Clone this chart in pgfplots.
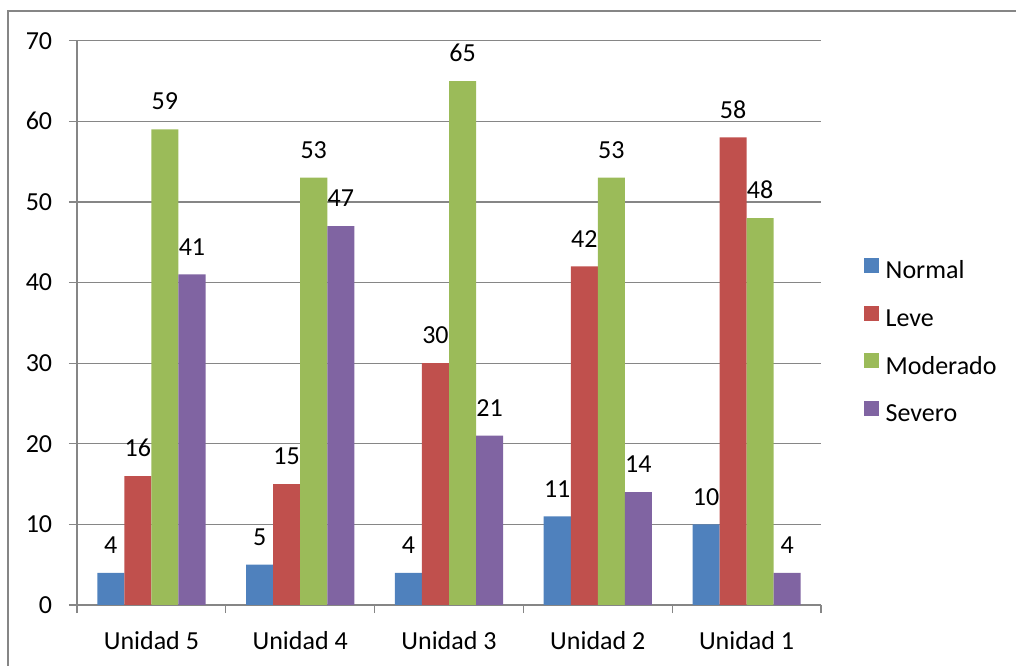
\documentclass[border=0pt]{standalone}
\usepackage{pgfplots}
\pgfplotsset{compat=1.18}
\usepackage{fontspec}
\setmainfont{Carlito}
\definecolor{cNormal}{HTML}{4F81BD}
\definecolor{cLeve}{HTML}{C0504D}
\definecolor{cMod}{HTML}{9BBB59}
\definecolor{cSev}{HTML}{8064A2}
\definecolor{axgray}{HTML}{868686}
\begin{document}
\fontsize{26bp}{31bp}\selectfont
\begin{tikzpicture}
\useasboundingbox (0,0) rectangle (1016bp,666bp);
\draw[axgray, line width=1.3bp] (8bp,0) -- (8bp,655bp) -- (1016bp,655bp);
\begin{axis}[
  at={(77bp,61bp)}, anchor=south west,
  scale only axis, width=744bp, height=564.3bp,
  ybar=0pt, bar width=27.05bp,
  xmin=-0.5, xmax=4.5, ymin=0, ymax=70,
  xtick={-0.5,0.5,...,4.5},
  x tick label as interval,
  xticklabels={Unidad 5,Unidad 4,Unidad 3,Unidad 2,Unidad 1},
  ytick={0,10,...,70},
  axis x line*=bottom, axis y line*=left,
  axis line style={axgray, line width=1.3bp, -},
  tick style={axgray, line width=1.3bp},
  tick align=outside, major tick length=8bp,
  ymajorgrids, grid style={axgray, line width=1.3bp},
  /pgf/number format/assume math mode=true,
  ticklabel style={font=\fontsize{26bp}{31bp}\selectfont, text=black},
  yticklabel style={xshift=-8bp},
  xticklabel style={yshift=-10bp},
  nodes near coords,
  nodes near coords style={font=\fontsize{26bp}{31bp}\selectfont, anchor=south, inner sep=0pt, yshift=19bp, text=black},
  legend style={draw=none, fill=none, at={(1.0578,0.615)}, anchor=north west,
    inner sep=0pt, outer sep=0pt, row sep=20.6bp, column sep=0pt,
    font=\fontsize{26bp}{31bp}\selectfont,
    nodes={inner sep=0pt, text height=18bp, text depth=6bp}},
  legend cell align=left,
  legend image code/.code={\fill[#1] (0bp,0bp) rectangle (15bp,15bp); \path (21.7bp,0bp);},
  every axis plot/.append style={draw=none},
]
\addplot[fill=cNormal] coordinates {(0,4) (1,5) (2,4) (3,11) (4,10)};
\addplot[fill=cLeve] coordinates {(0,16) (1,15) (2,30) (3,42) (4,58)};
\addplot[fill=cMod] coordinates {(0,59) (1,53) (2,65) (3,53) (4,48)};
\addplot[fill=cSev] coordinates {(0,41) (1,47) (2,21) (3,14) (4,4)};
\legend{Normal,Leve,Moderado,Severo}
\end{axis}
\end{tikzpicture}
\end{document}
